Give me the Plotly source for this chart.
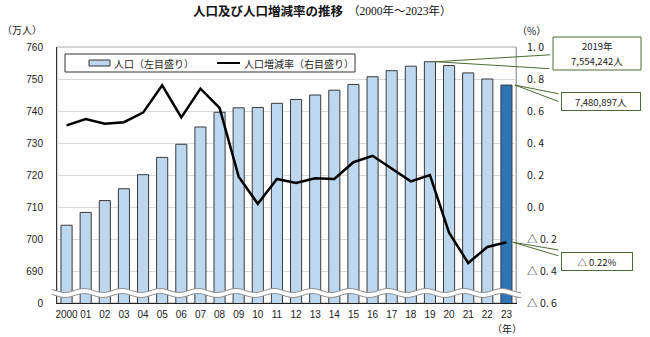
import numpy as np
import plotly.graph_objects as go

# ---- data -------------------------------------------------------------
years = ["2000", "01", "02", "03", "04", "05", "06", "07", "08", "09",
         "10", "11", "12", "13", "14", "15", "16", "17", "18", "19",
         "20", "21", "22", "23"]
population = [704.3, 708.3, 712.0, 715.7, 720.1, 725.5, 729.6, 735.0,
              739.6, 741.0, 741.1, 742.4, 743.6, 745.0, 746.5, 748.3,
              750.7, 752.6, 754.0, 755.4, 754.2, 751.9, 750.0, 748.1]  # 万人
change_rate = [0.51, 0.55, 0.52, 0.53, 0.59, 0.76, 0.56, 0.74, 0.62, 0.19,
               0.02, 0.175, 0.15, 0.18, 0.175, 0.28, 0.32, 0.24, 0.16, 0.20,
               -0.16, -0.35, -0.25, -0.22]  # %
left_ticks = [680, 690, 700, 710, 720, 730, 740, 750, 760]
left_tick_text = ["0", "690", "700", "710", "720", "730", "740", "750", "760"]
right_ticks = [-0.6, -0.4, -0.2, 0.0, 0.2, 0.4, 0.6, 0.8, 1.0]
right_tick_text = ["△ 0. 6", "△ 0. 4", "△ 0. 2", "0. 0", "0. 2", "0. 4",
                   "0. 6", "0. 8", "1. 0"]

idx = list(range(len(years)))

# ---- page geometry (pixels) -------------------------------------------
W, H = 650, 337
L, R, T, B = 57, 134, 47, 34
pw, ph = W - L - R, H - T - B


def px(x):
    return (x - L) / pw


def py(y):
    return (H - B - y) / ph


JP = "Noto Sans CJK JP"
NUM = "Liberation Sans"
GREEN = "#4F6B33"

bar_colors = ["#BDD7EE"] * (len(years) - 1) + ["#2E75B6"]

fig = go.Figure()
fig.add_trace(go.Bar(
    x=idx, y=population, marker=dict(color=bar_colors,
                                     line=dict(color="#3A3A3A", width=1)),
    width=0.58, name="人口（左目盛り）"))
fig.add_trace(go.Scatter(
    x=idx, y=change_rate, yaxis="y2", mode="lines",
    line=dict(color="black", width=2.5), name="人口増減率（右目盛り）"))

fig.update_layout(
    width=W, height=H, margin=dict(l=L, r=R, t=T, b=B),
    plot_bgcolor="white", paper_bgcolor="white", showlegend=False,
    xaxis=dict(range=[-0.5, len(years) - 0.5], tickvals=idx, ticktext=years,
               showgrid=False, showline=True, linecolor="#222", ticks="",
               tickfont=dict(family=NUM, size=10, color="#222"),
               ticklabelstandoff=2, zeroline=False),
    yaxis=dict(range=[680, 760], tickvals=left_ticks, ticktext=left_tick_text,
               showgrid=True, gridcolor="#D9D9D9", gridwidth=1,
               showline=True, linecolor="#333", ticks="", zeroline=False,
               tickfont=dict(family=NUM, size=10, color="#222"),
               ticklabelstandoff=11),
    yaxis2=dict(range=[-0.6, 1.0], tickvals=right_ticks,
                ticktext=right_tick_text, overlaying="y", side="right",
                showgrid=False, showline=True, linecolor="#A6A6A6",
                ticks="", zeroline=False,
                tickfont=dict(family=JP, size=10.5, color="#222"),
                ticklabelstandoff=8),
)

shapes = []
# plot frame
shapes.append(dict(type="rect", xref="paper", yref="paper", x0=0, x1=1,
                   y0=0, y1=1, line=dict(color="#A6A6A6", width=1),
                   layer="below"))

# axis break band (wavy white strip)
xs = np.linspace(52, 521, 160)
wave = 2.0 * np.cos(2 * np.pi * (xs - 350) / 38)
upper = 290.5 - wave
lower = 295.5 - wave


def path(xv, yv, close=False):
    pts = [f"{px(a):.5f},{py(b):.5f}" for a, b in zip(xv, yv)]
    s = "M" + " L".join(pts)
    return s + " Z" if close else s


band = path(np.concatenate([xs, xs[::-1]]),
            np.concatenate([upper, lower[::-1]]), close=True)
shapes.append(dict(type="path", xref="paper", yref="paper", path=band,
                   fillcolor="white", line=dict(width=0), layer="above"))
for curve in (upper, lower):
    shapes.append(dict(type="path", xref="paper", yref="paper",
                       path=path(xs, curve),
                       line=dict(color="#8C8C8C", width=1), layer="above"))

# legend box
shapes.append(dict(type="rect", xref="paper", yref="paper",
                   x0=px(65), x1=px(355), y0=py(72), y1=py(54),
                   fillcolor="white", line=dict(color="#333", width=1),
                   layer="above"))
shapes.append(dict(type="rect", xref="paper", yref="paper",
                   x0=px(89), x1=px(110), y0=py(66), y1=py(60),
                   fillcolor="#BDD7EE", line=dict(color="#333", width=1),
                   layer="above"))
shapes.append(dict(type="line", xref="paper", yref="paper",
                   x0=px(217), x1=px(240), y0=py(63), y1=py(63),
                   line=dict(color="black", width=2), layer="above"))

# callout frame for the 2019 peak
shapes.append(dict(type="rect", xref="paper", yref="paper",
                   x0=px(553), x1=px(641), y0=py(70), y1=py(37),
                   fillcolor="white", line=dict(color=GREEN, width=1),
                   layer="above"))
fig.update_layout(shapes=shapes)

ann = []


def text(s, x, y, size=10, family=JP, xanchor="center", color="#222"):
    ann.append(dict(text=s, xref="paper", yref="paper", x=px(x), y=py(y),
                    xanchor=xanchor, yanchor="middle", showarrow=False,
                    font=dict(family=family, size=size, color=color)))


text("<b>人口及び人口増減率の推移</b>", 268, 10, size=12.5, color="#111")
text("（2000年～2023年）", 400, 10, size=11.5,
     family="Liberation Serif, Noto Sans CJK JP", color="#111")
text("（万人）", 22, 29, size=10)
text("（%）", 531, 30, size=10)
text("（年）", 507, 328, size=10)
text("人口（左目盛り）", 112, 63, size=10, xanchor="left")
text("人口増減率（右目盛り）", 242, 63, size=10, xanchor="left")
text("2019年", 597, 46, size=9.5)
text("7,554,242人", 597, 61, size=9.5)

# boxed callouts
callouts = [("7,480,897人", 600.5, 101, 78, 17),
            ("△ 0.22%", 597, 261, 70, 17)]
for s, cx, cy, w, h in callouts:
    ann.append(dict(text=s, xref="paper", yref="paper", x=px(cx), y=py(cy),
                    xanchor="center", yanchor="middle", showarrow=False,
                    width=w, height=h, bgcolor="white", bordercolor=GREEN,
                    borderwidth=1, borderpad=0,
                    font=dict(family=JP, size=9.5, color="#222")))

# wedge leader lines from each callout to its mark
leaders = [("y", 19.3, population[19], [(116, -7), (115, 7)]),
           ("y", 23.45, population[23], [(45, 9), (45, 17)]),
           ("y2", 23.33, change_rate[-1], [(47, 8), (47, 14)])]
for yref, x, y, ends in leaders:
    for ax, ay in ends:
        ann.append(dict(text="", xref="x", yref=yref, x=x, y=y,
                        ax=ax, ay=ay, showarrow=True, arrowhead=0,
                        arrowwidth=1, arrowcolor=GREEN, standoff=0))

fig.update_layout(annotations=ann)
fig.write_html("out.html")
